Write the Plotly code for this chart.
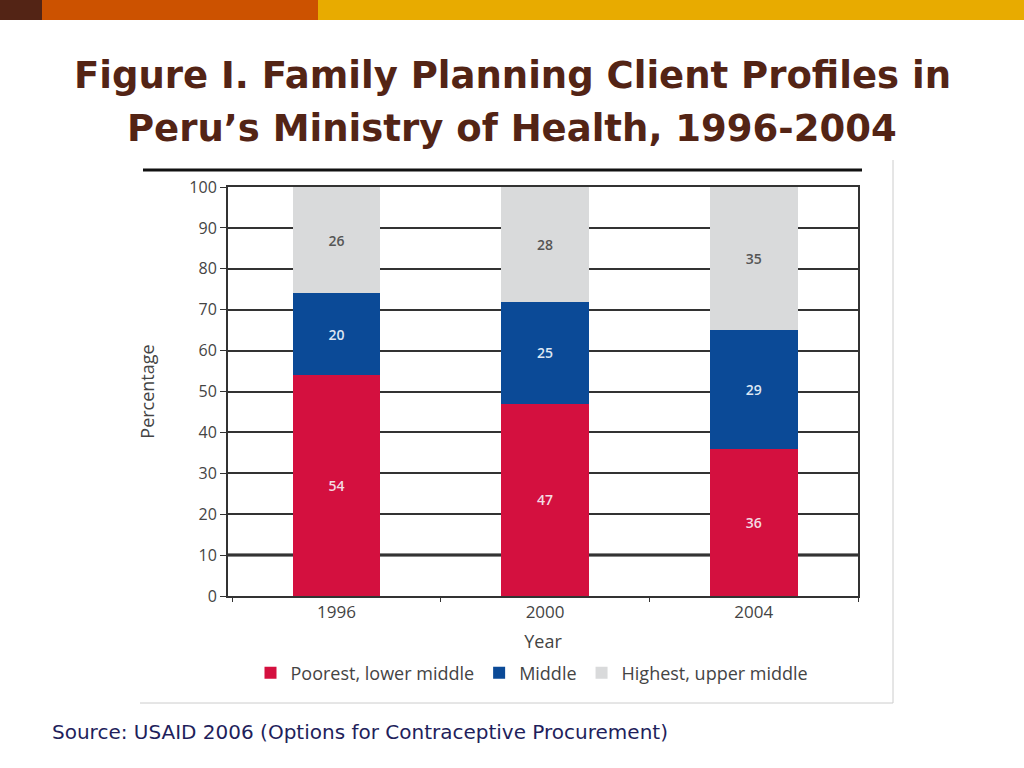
import plotly.graph_objects as go

years = ["1996", "2000", "2004"]
poorest = [54, 47, 36]
middle = [20, 25, 29]
highest = [26, 28, 35]
series_names = ["Poorest, lower middle", "Middle", "Highest, upper middle"]
y_ticks = [0, 10, 20, 30, 40, 50, 60, 70, 80, 90, 100]

title_line1 = "Figure I. Family Planning Client Profiles in"
title_line2 = "Peru\u2019s Ministry of Health, 1996-2004"
source_text = "Source: USAID 2006 (Options for Contraceptive Procurement)"

# plot area in pixels
L, R, T, B = 228, 858, 187, 596
W, H = R - L, B - T


def px(x):
    return (x - L) / W


def py(y):
    return (B - y) / H


FONT = "Open Sans"
fig = go.Figure()
fig.add_trace(go.Bar(
    x=years, y=poorest, name=series_names[0], width=0.42,
    marker=dict(color="#d4103f", line=dict(width=0)),
    text=poorest, textposition="inside", insidetextanchor="middle",
    textfont=dict(family=FONT, size=14, color="#f3dbe2", weight=600),
))
fig.add_trace(go.Bar(
    x=years, y=middle, name=series_names[1], width=0.42,
    marker=dict(color="#0b4a97", line=dict(width=0)),
    text=middle, textposition="inside", insidetextanchor="middle",
    textfont=dict(family=FONT, size=14, color="#dde6f3", weight=600),
))
fig.add_trace(go.Bar(
    x=years, y=highest, name=series_names[2], width=0.42,
    marker=dict(color="#d9dadb", line=dict(width=0)),
    text=highest, textposition="inside", insidetextanchor="middle",
    textfont=dict(family=FONT, size=14, color="#555555", weight=600),
))

shapes = [
    # top decorative band
    dict(type="rect", xref="paper", yref="paper", x0=px(0), x1=px(42), y0=py(20), y1=py(0),
         fillcolor="#532415", line=dict(width=0), layer="above"),
    dict(type="rect", xref="paper", yref="paper", x0=px(42), x1=px(318), y0=py(20), y1=py(0),
         fillcolor="#cc5200", line=dict(width=0), layer="above"),
    dict(type="rect", xref="paper", yref="paper", x0=px(318), x1=px(1024), y0=py(20), y1=py(0),
         fillcolor="#e8ab00", line=dict(width=0), layer="above"),
    # thick line above chart
    dict(type="line", xref="paper", yref="paper", x0=px(143), x1=px(862), y0=py(170), y1=py(170),
         line=dict(color="#111111", width=3)),
    # chart image border
    dict(type="line", xref="paper", yref="paper", x0=px(893), x1=px(893), y0=py(160), y1=py(703),
         line=dict(color="#cccccc", width=1)),
    dict(type="line", xref="paper", yref="paper", x0=px(140), x1=px(893), y0=py(703), y1=py(703),
         line=dict(color="#cccccc", width=1)),
    # emphasised 10 line
    dict(type="line", xref="paper", yref="y", x0=0, x1=1, y0=10, y1=10,
         line=dict(color="#111111", width=3), layer="below"),
]

annotations = [
    dict(text=title_line1, xref="paper", yref="paper", x=px(512), y=py(75),
         xanchor="center", yanchor="middle", showarrow=False,
         font=dict(family="DejaVu Sans", size=37, color="#532415", weight="bold")),
    dict(text=title_line2, xref="paper", yref="paper", x=px(512), y=py(128),
         xanchor="center", yanchor="middle", showarrow=False,
         font=dict(family="DejaVu Sans", size=37, color="#532415", weight="bold")),
    dict(text=source_text, xref="paper", yref="paper", x=px(50), y=py(732),
         xanchor="left", yanchor="middle", showarrow=False,
         font=dict(family="DejaVu Sans", size=20, color="#1f1f5c")),
]

fig.update_layout(
    barmode="stack",
    width=1024, height=768,
    margin=dict(l=L, r=1024 - R, t=T, b=768 - B, pad=0),
    paper_bgcolor="white", plot_bgcolor="white",
    font=dict(family=FONT, color="#444444"),
    shapes=shapes, annotations=annotations,
    legend=dict(orientation="h", x=px(532), xanchor="center", y=py(673), yanchor="middle",
                font=dict(family=FONT, size=18, color="#444444"),
                traceorder="normal", itemwidth=30, bgcolor="rgba(0,0,0,0)"),
    showlegend=True,
)
fig.update_xaxes(
    range=[-0.52, 2.5],
    showline=True, linecolor="#333333", linewidth=2, mirror=True,
    ticks="outside", tickson="boundaries", ticklen=4, tickcolor="#333333",
    tickfont=dict(family=FONT, size=17, color="#444444"),
    title=dict(text="Year", font=dict(family=FONT, size=18, color="#444444"), standoff=13),
)
fig.update_yaxes(
    range=[0, 100], tickvals=y_ticks,
    showline=True, linecolor="#333333", linewidth=2, mirror=True,
    showgrid=True, gridcolor="#333333", gridwidth=1.5,
    ticks="outside", ticklen=6, tickcolor="#333333",
    tickfont=dict(family=FONT, size=16, color="#444444"),
    title=dict(text="Percentage", font=dict(family=FONT, size=18, color="#444444"), standoff=30),
    zeroline=False,
)

fig.write_html(
    "out.html",
    config={"displayModeBar": False},
    post_script="document.body.style.margin='0';document.body.style.overflow='hidden';",
)
